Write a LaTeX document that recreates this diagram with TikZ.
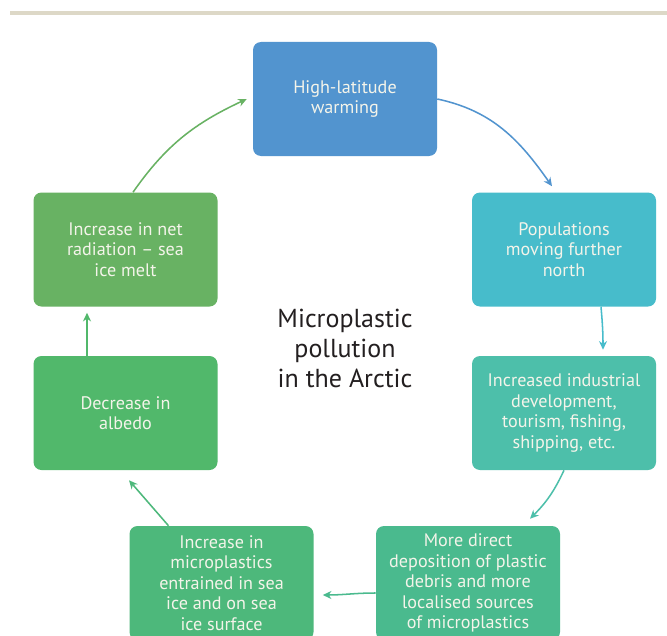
\documentclass[tikz,border=0pt]{standalone}
\usepackage{fontspec}
\setmainfont{PT Sans}
\usetikzlibrary{arrows.meta,calc}
\definecolor{Rule}{HTML}{DDD8C7}
\definecolor{Ink}{HTML}{231F20}
\definecolor{Cream}{HTML}{F4F4EA}
\definecolor{WarmBlue}{HTML}{5294CF}
\definecolor{Cyan}{HTML}{47BCCB}
\definecolor{SeaTeal}{HTML}{4DBFAA}
\definecolor{Jade}{HTML}{4ABA8E}
\definecolor{Mint}{HTML}{4DB87B}
\definecolor{Leaf}{HTML}{51B86B}
\definecolor{Moss}{HTML}{68B263}
\tikzset{
  stage/.style={rounded corners=6pt,minimum width=138pt,minimum height=85.5pt,inner sep=2pt,
    align=center,text=Cream,font=\fontsize{13.6}{15.4}\selectfont},
  flow/.style={-{Stealth[length=6.5pt,width=6pt]},line width=1.15pt},
}
\begin{document}
\begin{tikzpicture}[x=0.75pt,y=-0.75pt]
        \fill[white] (0,0) rectangle (667,635);
        \useasboundingbox (0,0) rectangle (667,635);
        \fill[Rule] (10,11) rectangle (667,15);
        % the seven stages of the loop
        \node[stage,fill=WarmBlue] (warm) at (345,99) {High-latitude\\warming};
        \node[stage,fill=Cyan] (pop) at (564,249.5) {Populations\\moving further\\north};
        \node[stage,fill=SeaTeal] (ind) at (564,413) {Increased industrial\\development,\\tourism, fishing,\\shipping, etc.};
        \node[stage,fill=Jade] (dep) at (468,583) {More direct\\deposition of plastic\\debris and more\\localised sources\\of microplastics};
        \node[stage,fill=Mint] (ice) at (221.5,583) {Increase in\\microplastics\\entrained in sea\\ice and on sea\\ice surface};
        \node[stage,fill=Leaf] (alb) at (125.5,413) {Decrease in\\albedo};
        \node[stage,fill=Moss] (rad) at (125.5,249.5) {Increase in net\\radiation -- sea\\ice melt};
        \node[align=center,text=Ink,font=\fontsize{19.5}{22.5}\selectfont] (title) at (345,348) {Microplastic\\pollution\\in the Arctic};
        % arrows
        \draw[flow,WarmBlue] (warm.east) to[out=-12,in=125] ($(pop.north)+(-12,-6)$);
        \draw[flow,Cyan] ($(pop.south)+(37,0)$) to[out=-85,in=90] ($(ind.north)+(39,-6)$);
        \draw[flow,SeaTeal] (ind.south) to[out=-115,in=45] ($(dep.north)+(62,-7)$);
        \draw[flow,Jade] ($(dep.west)+(0,10)$) to[out=180,in=0] ($(ice.east)+(9,12)$);
        \draw[flow,Mint] ($(ice.north)+(-53,0)$) -- ($(alb.south)+(3.5,10)$);
        \draw[flow,Leaf] ($(alb.north)+(-38.5,0)$) -- ($(rad.south)+(-38.5,6)$);
        \draw[flow,Moss] ($(rad.north)+(7.5,0)$) to[out=55,in=205] ($(warm.west)+(-6,0)$);
      \end{tikzpicture}
\end{document}
